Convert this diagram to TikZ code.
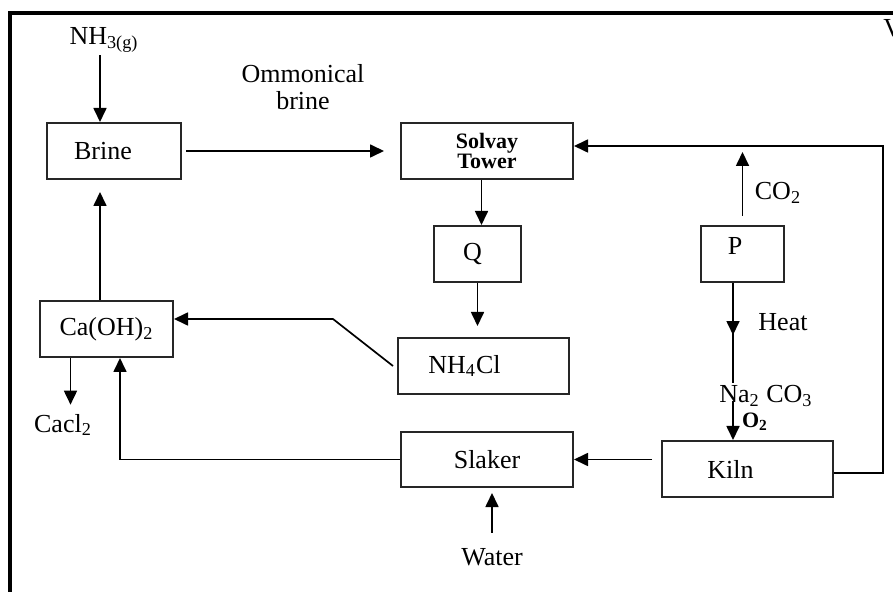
\documentclass[tikz,border=0pt]{standalone}
\usepackage{fontspec}
\setmainfont{Liberation Serif}
\usetikzlibrary{arrows.meta,positioning,calc,decorations.markings}
\tikzset{
  procbox/.style={rectangle, draw=black!85, line width=1pt,
                  minimum height=28pt, inner sep=2pt, align=center,
                  font=\fontsize{13}{15}\selectfont},
  tag/.style={inner sep=1pt, align=center,
              font=\fontsize{13}{13.5}\selectfont},
  flow/.style={-{Triangle[length=7pt,width=6.5pt]}, line width=0.85pt},
  midflow/.style={line width=0.85pt, postaction={decorate},
                  decoration={markings, mark=at position 0.52 with
                  {\arrow{Triangle[length=7pt,width=6.5pt]}}}},
}
\begin{document}
\begin{tikzpicture}[
      boldtag/.style={tag, font=\bfseries\fontsize{11}{10}\selectfont},
      x=0.5pt, y=-0.5pt,
    ]
    \useasboundingbox (0,0) rectangle (893,592);
    \fill[white] (0,0) rectangle (893,592);
    \draw[line width=2pt] (10,592) -- (10,13.5) -- (893,13.5);

    \node[procbox, minimum width=67pt]   (brine)  at (114,151)   {Brine\hspace{11pt}};
    \node[procbox, minimum width=86pt, font=\bfseries\fontsize{11}{10}\selectfont]
                                         (solvay) at (487,151)   {Solvay\\Tower};
    \node[procbox, minimum width=43.5pt] (q)      at (477.5,254) {Q\hspace{5pt}};
    \node[procbox, minimum width=41.5pt] (p)      at (742.5,254) {\raisebox{8pt}{P}\hspace{7.5pt}};
    \node[procbox, minimum width=85.5pt] (nhcl)   at (483.5,366) {NH\textsubscript{4}Cl\hspace{19pt}};
    \node[procbox, minimum width=66.5pt] (caoh)   at (106.5,329) {Ca(OH)\textsubscript{2}};
    \node[procbox, minimum width=86pt, minimum height=27.5pt]
                                         (slaker) at (487,459.5) {Slaker};
    \node[procbox, minimum width=85.5pt] (kiln)   at (747.5,469) {Kiln\hspace{17pt}};

    \node[tag] (nh3)   at (104,40)  {NH\textsubscript{3(g)}};
    \node[tag] (ombr)  at (303,87)  {Ommonical\\brine};
    \node[tag] (co2)   at (778,193) {CO\textsubscript{2}};
    \node[tag] (heat)  at (783,322) {Heat};
    \node[tag, anchor=west] (naco) at (717,396) {Na\textsubscript{2} CO\textsubscript{3}};
    \node[boldtag] (otwo) at (755,422) {O\textsubscript{2}};
    \node[tag] (cacl)  at (63,425)  {Cacl\textsubscript{2}};
    \node[tag] (water) at (492,557) {Water};
    \node[tag, anchor=west] (vcut) at (881,28) {V};

    \coordinate (bend) at (333,319);
    \coordinate (ret)  at (883,146);

    \draw[flow] ([xshift=-7pt]brine.north |- nh3.south) -- ([xshift=-7pt]brine.north);
    \draw[flow] ([xshift=2pt]brine.east) -- ([xshift=-8pt]solvay.west);
    \draw[flow] ([xshift=2pt]q.north |- solvay.south) -- ([xshift=2pt]q.north);
    \draw[flow, shorten >=5.5pt] (q.south) -- (q.south |- nhcl.north);
    \draw[flow] ([xshift=-2pt]nhcl.west) -- (bend) -- (bend -| caoh.east);
    \draw[flow, shorten >=3.5pt] ([xshift=-18pt]caoh.south) -- ([xshift=-18pt]caoh.south |- cacl.north);
    \draw[flow, shorten >=6pt] ([xshift=-7pt]brine.south |- caoh.north) -- ([xshift=-7pt]brine.south);
    \draw[flow] (slaker.west) -| ([xshift=6.75pt]caoh.south);
    \draw[flow] ([xshift=-4.5pt]kiln.west |- slaker.east) -- (slaker.east);
    \draw[flow, shorten <=6.5pt, shorten >=2.5pt] (water.north) -- (water.north |- slaker.south);
    \draw[flow] ([yshift=-2pt]kiln.east) -| (ret) -- (ret -| solvay.east);
    \draw[flow, shorten <=4.5pt, shorten >=3pt] (p.north) -- (p.north |- ret);
    \draw[midflow] ([xshift=-4.75pt]p.south) -- ([xshift=-4.75pt]p.south |- naco.north);
    \draw[flow] ([xshift=-4.75pt,yshift=4pt]p.south |- naco.south) -- ([xshift=-4.75pt]p.south |- kiln.north);
  \end{tikzpicture}
\end{document}
